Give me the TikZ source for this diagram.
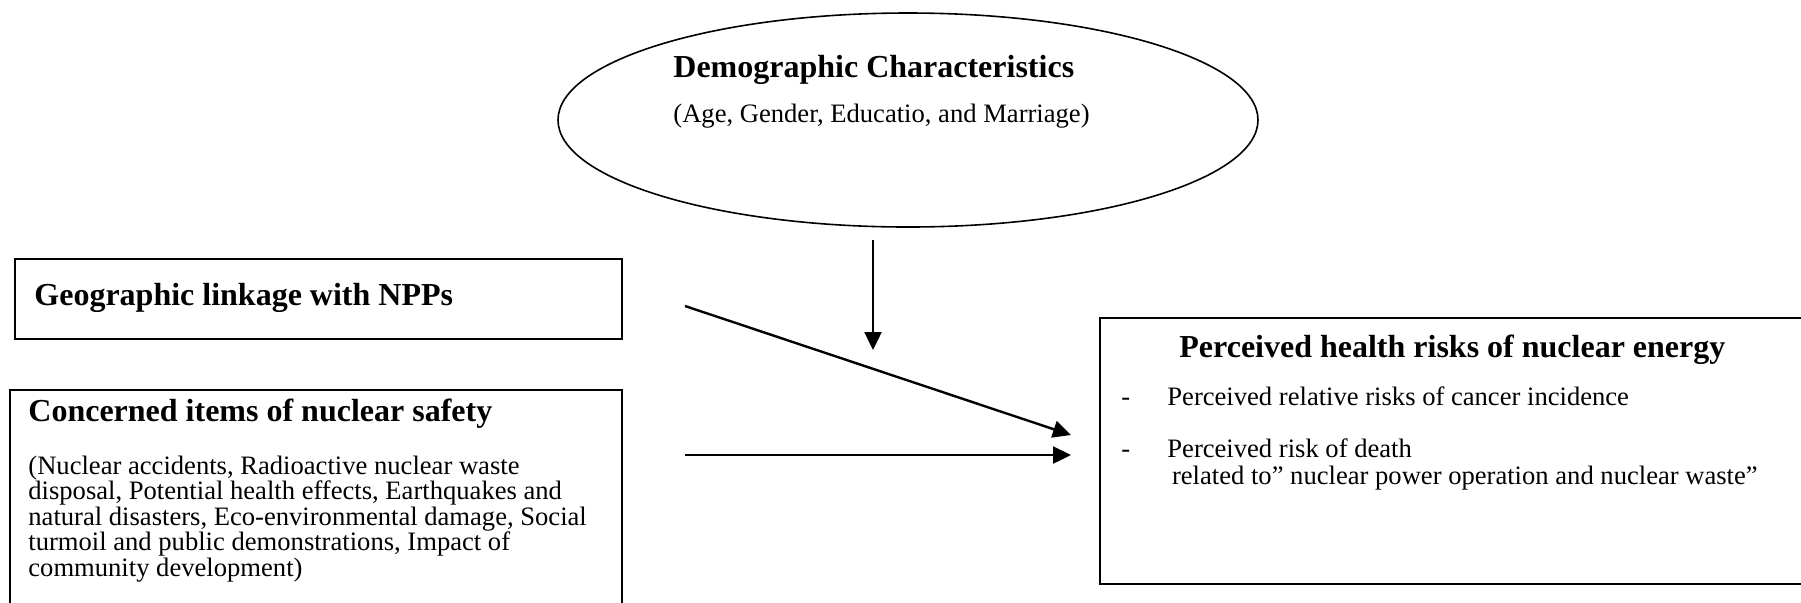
\documentclass[tikz,border=0pt]{standalone}
\usepackage{fontspec}
\setmainfont{Liberation Serif}
\usetikzlibrary{shapes.geometric,arrows.meta}
\begin{document}
\begin{tikzpicture}[x=0.5pt,y=-0.5pt,
  frame/.style={draw, line width=1pt, inner sep=0pt, anchor=north west},
  titletext/.style={font=\fontsize{16}{19}\selectfont\bfseries, inner sep=0pt, anchor=base west},
  bodytext/.style={font=\fontsize{13.3}{14}\selectfont, inner sep=0pt, anchor=base west},
  arr/.style={line width=1.2pt, -{Triangle[length=9pt,width=8.5pt]}}]
\useasboundingbox (0,0) rectangle (1801,602);
\clip (0,0) rectangle (1801,602);
\fill[white] (0,0) rectangle (1801,602);

% Demographic ellipse
\node[draw, ellipse, line width=0.8pt, minimum width=350pt, minimum height=107pt, inner sep=0pt] (dem) at (908,120) {};
\node[titletext] (demt) at (673,77) {Demographic Characteristics};
\node[bodytext] (demb) at (673,122) {(Age, Gender, Educatio, and Marriage)};

% Geographic box
\node[frame, minimum width=303.5pt, minimum height=40pt] (geo) at (14,258) {};
\node[titletext] (geot) at (34,305) {Geographic linkage with NPPs};

% Concerned items box
\node[frame, minimum width=306pt, minimum height=120pt] (con) at (9,389) {};
\node[titletext] (cont) at (28,421) {Concerned items of nuclear safety};
\node[bodytext] (con1) at (28,474) {(Nuclear accidents, Radioactive nuclear waste};
\node[bodytext] (con2) at (28,499.5) {disposal, Potential health effects, Earthquakes and};
\node[bodytext] (con3) at (28,525) {natural disasters, Eco-environmental damage, Social};
\node[bodytext] (con4) at (28,550.5) {turmoil and public demonstrations, Impact of};
\node[bodytext] (con5) at (28,576) {community development)};

% Perceived health risks box
\node[frame, minimum width=366pt, minimum height=133pt] (risk) at (1099,317) {};
\node[titletext] (riskt) at (1179,357) {Perceived health risks of nuclear energy};
\node[bodytext] (b1) at (1121,405.5) {-};
\node[bodytext] (r1) at (1167,405.5) {Perceived relative risks of cancer incidence};
\node[bodytext] (b2) at (1121,457.5) {-};
\node[bodytext] (r2) at (1167,457.5) {Perceived risk of death};
\node[bodytext] (r3) at (1165,484) {\ related to” nuclear power operation and nuclear waste”};

% Arrows
\coordinate (vs) at (873,240);
\coordinate (ve) at (873,350);
\coordinate (ds) at (685,306);
\coordinate (de) at (1071,435);
\coordinate (hs) at (685,455);
\coordinate (he) at (1071,455);
\draw[arr] (vs) -- (ve);
\draw[arr] (ds) -- (de);
\draw[arr] (hs) -- (he);
\end{tikzpicture}
\end{document}
